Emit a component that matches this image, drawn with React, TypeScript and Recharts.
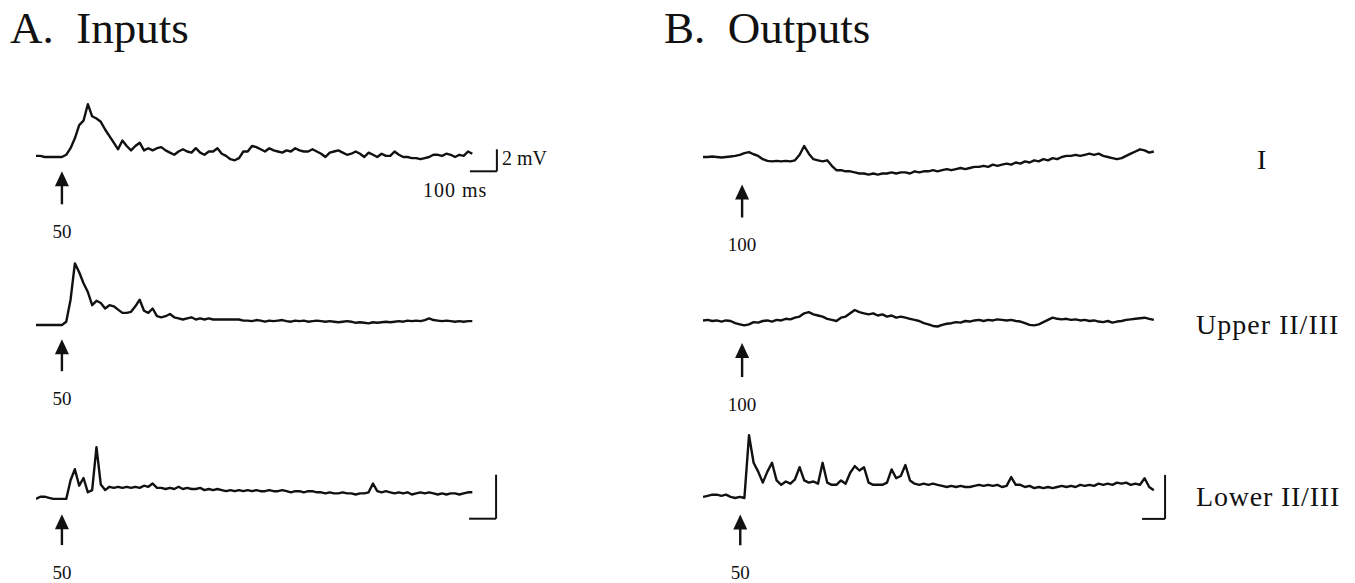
import React from 'react';
import { LineChart, Line, XAxis, YAxis, ReferenceLine } from 'recharts';

// sampling step of the traces (ms)
const A_STEP_MS = 16;
const B_STEP_MS = 20;

// A. Inputs, membrane potential relative to rest (mV)
const inputTrace1Mv = [
    0.1, 0.1, 0, 0, 0, 0, 0, 0.2, 0.8, 1.7,
    2.9, 3.3, 4.8, 3.7, 3.5, 3.2, 2.5, 1.9, 1.3, 0.7,
    1.5, 1.0, 0.6, 1.0, 1.3, 0.6, 0.8, 0.6, 0.8, 0.9,
    0.6, 0.4, 0.2, 0.5, 0.7, 0.5, 0.4, 0.8, 0.4, 0.2,
    0.5, 0.5, 0.8, 0.3, 0.1, -0.2, -0.3, -0.1, 0.5, 0.5,
    1.0, 0.9, 0.7, 0.5, 0.8, 0.6, 0.5, 0.4, 0.6, 0.5,
    0.8, 0.6, 0.5, 0.5, 0.7, 0.5, 0.3, 0, 0.4, 0.5,
    0.6, 0.4, 0.2, 0.3, 0.5, 0.3, 0, 0.4, 0.2, 0,
    0.3, 0.1, 0.1, 0.5, 0.2, 0, 0, -0.1, -0.1, -0.2,
    -0.1, 0, 0.2, 0.2, 0.1, 0.3, 0.2, 0, 0.2, 0.1, 0.5, 0.3,
];
const inputTrace2Mv = [
    0, 0, 0, 0, 0, 0, 0, 0.3, 2.3, 5.6,
    4.8, 3.8, 3.0, 1.8, 2.2, 2.0, 1.5, 1.8, 1.7, 1.4,
    1.1, 1.1, 1.2, 1.7, 2.3, 1.3, 1.1, 1.5, 0.8, 0.7,
    0.8, 1.0, 0.7, 0.6, 0.5, 0.6, 0.7, 0.5, 0.6, 0.5,
    0.6, 0.5, 0.5, 0.5, 0.5, 0.5, 0.5, 0.5, 0.4,
    0.4, 0.35, 0.45, 0.4, 0.3, 0.4, 0.35, 0.4, 0.45, 0.35,
    0.3, 0.4, 0.35, 0.4, 0.3, 0.35, 0.4, 0.35, 0.3, 0.35,
    0.3, 0.25, 0.3, 0.35, 0.3, 0.2, 0.25, 0.2, 0.15, 0.25,
    0.2, 0.25, 0.3, 0.25, 0.3, 0.35, 0.3, 0.4, 0.35, 0.4,
    0.35, 0.45, 0.6, 0.45, 0.4, 0.35, 0.4, 0.35, 0.3, 0.35, 0.3, 0.35, 0.35,
];
const inputTrace3Mv = [
    0.1, 0.3, 0.3, 0.2, 0.1, 0.1, 0.1, 0.1, 1.8, 2.8,
    1.3, 2.0, 0.7, 0.9, 4.8, 1.4, 0.9, 1.2, 1.1, 1.2,
    1.1, 1.2, 1.1, 1.2, 1.1, 1.3, 1.2, 1.5, 1.1,
    1.1, 1.0, 1.1, 1.0, 1.2, 1.0, 1.1, 1.0, 1.0, 1.1,
    0.9, 1.0, 0.9, 1.0, 0.9, 0.8, 0.9, 0.8, 0.9, 0.8,
    0.9, 0.8, 0.9, 0.8, 0.8, 0.9, 0.8, 0.8, 0.9, 0.8,
    0.7, 0.8, 0.8, 0.7, 0.8, 0.8, 0.7, 0.7, 0.6, 0.7,
    0.6, 0.6, 0.7, 0.6, 0.6, 0.5, 0.6, 0.6, 0.7, 1.5,
    0.8, 0.7, 0.8, 0.7, 0.6, 0.7, 0.6, 0.7, 0.5, 0.6,
    0.7, 0.6, 0.7, 0.6, 0.5, 0.6, 0.5, 0.6, 0.6, 0.5, 0.6, 0.7, 0.7,
];

// B. Outputs
const outputLayerIMv = [
    0.0, 0.0, 0.05, 0.0, -0.05, 0.0, 0.05, 0.1, 0.2, 0.35,
    0.45, 0.25, 0.1, -0.2, -0.35, -0.4, -0.35, -0.4, -0.35, -0.4,
    -0.3, 0.2, 1.0, 0.3, -0.2, -0.3, -0.4, -0.3, -0.8, -1.2,
    -1.2, -1.3, -1.3, -1.4, -1.5, -1.5, -1.6, -1.5, -1.6, -1.5,
    -1.5, -1.4, -1.5, -1.4, -1.4, -1.5, -1.3, -1.4, -1.3, -1.3,
    -1.2, -1.3, -1.2, -1.1, -1.2, -1.1, -1.0, -1.1, -1.0, -0.9,
    -0.9, -0.8, -0.9, -0.7, -0.8, -0.7, -0.6, -0.7, -0.5, -0.6,
    -0.4, -0.5, -0.3, -0.4, -0.2, -0.3, -0.1, -0.2, 0.0, 0.1,
    0.1, 0.2, 0.1, 0.2, 0.3, 0.2, 0.3, 0.1, 0.0, -0.1,
    -0.2, -0.1, 0.1, 0.3, 0.5, 0.7, 0.6, 0.4, 0.5,
];
const outputUpperMv = [
    0.05, 0.1, 0.0, 0.05, -0.05, 0.05, 0.0, -0.2, -0.3, -0.4,
    -0.3, -0.1, -0.15, 0.0, 0.05, -0.05, 0.1, 0.05, 0.2, 0.15,
    0.3, 0.4, 0.7, 0.8, 0.6, 0.5, 0.4, 0.2, 0.1, 0.0,
    0.3, 0.4, 0.7, 1.0, 0.8, 0.7, 0.6, 0.7, 0.5, 0.6,
    0.4, 0.5, 0.3, 0.4, 0.3, 0.2, 0.1, 0.0, -0.2, -0.3,
    -0.45, -0.5, -0.35, -0.25, -0.2, -0.1, -0.15, 0.0, -0.05, 0.05,
    0.1, 0.0, 0.1, 0.05, 0.15, 0.1, 0.05, 0.1, 0.0, -0.05,
    -0.2, -0.35, -0.4, -0.3, -0.1, 0.1, 0.3, 0.2, 0.15, 0.2,
    0.1, 0.15, 0.05, 0.1, 0.0, 0.05, -0.05, -0.1, 0.0, -0.15,
    -0.05, 0.0, 0.1, 0.15, 0.2, 0.25, 0.3, 0.2, 0.1,
];
const outputLowerMv = [
    0.1, 0.2, 0.3, 0.3, 0.2, 0.3, 0.1, 0.0, 0.1, 0.0,
    5.7, 3.2, 2.4, 1.4, 2.4, 3.2, 1.6, 1.2, 1.5, 1.3,
    1.7, 2.8, 1.6, 1.4, 1.5, 1.3, 3.2, 1.4, 1.2, 1.2,
    1.6, 1.3, 2.3, 2.9, 2.5, 2.8, 1.4, 1.2, 1.2, 1.2,
    1.4, 2.6, 1.8, 2.0, 3.0, 1.6, 1.3, 1.2, 1.3, 1.2,
    1.3, 1.2, 1.1, 1.0, 1.1, 1.0, 1.1, 1.0, 1.0, 1.1,
    1.2, 1.1, 1.2, 1.1, 1.2, 1.0, 1.1, 1.9, 1.2, 1.2,
    1.0, 1.1, 0.9, 1.0, 0.9, 1.0, 0.9, 1.0, 1.1, 1.0,
    1.1, 1.0, 1.2, 1.1, 1.2, 1.1, 1.3, 1.2, 1.3, 1.2,
    1.4, 1.3, 1.4, 1.2, 1.3, 1.2, 1.8, 1.0, 0.7,
];

// stimulus time (ms) and intensity label, one per trace
const stimTimesMs = [96, 96, 96, 170, 170, 162];
const stimLabels = ['50', '50', '50', '100', '100', '50'];

const panelTitles = ['A.  Inputs', 'B.  Outputs'];
const layerLabels = ['I', 'Upper II/III', 'Lower II/III'];

// scale bars: 100 ms x (2 mV top-left, 4 mV on the bottom rows)
const scaleBarMs = 100;
const scaleBarMv = [2, 4, 4];
const scaleBarTexts = ['2 mV', '100 ms'];

const INK = '#111';
const SERIF = '"Liberation Serif", "Times New Roman", serif';

const CHART_W = 470;
const Y_MIN = -9;
const Y_MAX = 6;
const PX_PER_MV = 11;
const CHART_H = (Y_MAX - Y_MIN) * PX_PER_MV;
const A_TMAX = CHART_W * (100 / 27);
const B_TMAX = CHART_W * (100 / 23);

const Arrow = (props: any) => {
    const { x1, y1, y2, label } = props;
    return (
        <g>
            <line x1={x1} y1={y1 + 12} x2={x1} y2={y2} stroke={INK} strokeWidth={2.4} />
            <polygon points={`${x1},${y1} ${x1 - 7},${y1 + 15} ${x1 + 7},${y1 + 15}`} fill={INK} />
            <text
                x={x1}
                y={y2 + 27}
                textAnchor="middle"
                dominantBaseline="central"
                fontFamily={SERIF}
                fontSize={19}
                fill={INK}
            >
                {label}
            </text>
        </g>
    );
};

interface TraceProps {
    values: number[];
    step: number;
    tMax: number;
    left: number;
    baseline: number;
    stim: number;
    stimLabel: string;
    arrowTip: number;
    arrowTail: number;
    bar?: { t: number; y: number; mv: number };
}

const Trace: React.FC<TraceProps> = ({ values, step, tMax, left, baseline, stim, stimLabel, arrowTip, arrowTail, bar }) => {
    const data = values.map((v, i) => ({ t: i * step, v }));
    return (
        <div style={{ position: 'absolute', left, top: baseline - Y_MAX * PX_PER_MV }}>
            <LineChart width={CHART_W} height={CHART_H} data={data} margin={{ top: 0, right: 0, bottom: 0, left: 0 }}>
                <XAxis type="number" dataKey="t" domain={[0, tMax]} hide allowDataOverflow />
                <YAxis type="number" domain={[Y_MIN, Y_MAX]} hide allowDataOverflow />
                <Line
                    type="linear"
                    dataKey="v"
                    stroke={INK}
                    strokeWidth={2.4}
                    strokeLinejoin="round"
                    dot={false}
                    isAnimationActive={false}
                />
                <ReferenceLine
                    segment={[{ x: stim, y: arrowTip }, { x: stim, y: arrowTail }]}
                    shape={(p: any) => <Arrow {...p} label={stimLabel} />}
                />
                {bar ? (
                    <ReferenceLine
                        segment={[{ x: bar.t - scaleBarMs, y: bar.y }, { x: bar.t, y: bar.y }]}
                        stroke={INK}
                        strokeWidth={2}
                    />
                ) : null}
                {bar ? (
                    <ReferenceLine
                        segment={[{ x: bar.t, y: bar.y }, { x: bar.t, y: bar.y + bar.mv }]}
                        stroke={INK}
                        strokeWidth={2}
                    />
                ) : null}
            </LineChart>
        </div>
    );
};

const label = (text: string, left: number, centerY: number, size: number, spacing = 0) => (
    <div
        key={text + left}
        style={{
            position: 'absolute',
            left,
            top: centerY - size / 2,
            fontSize: size,
            lineHeight: 1,
            fontFamily: SERIF,
            color: INK,
            whiteSpace: 'pre',
            letterSpacing: spacing,
        }}
    >
        {text}
    </div>
);

export default function App() {
    return (
        <div
            style={{
                position: 'absolute',
                left: 0,
                top: 0,
                width: 1355,
                height: 583,
                background: '#fff',
                overflow: 'hidden',
            }}
        >
            {label(panelTitles[0], 10, 28, 45)}
            {label(panelTitles[1], 664, 28, 45)}

            <Trace values={inputTrace1Mv} step={A_STEP_MS} tMax={A_TMAX} left={36} baseline={157}
                stim={stimTimesMs[0]} stimLabel={stimLabels[0]} arrowTip={-1.3} arrowTail={-4.3}
                bar={{ t: 1707, y: -1.3, mv: scaleBarMv[0] }} />
            <Trace values={inputTrace2Mv} step={A_STEP_MS} tMax={A_TMAX} left={36} baseline={325}
                stim={stimTimesMs[1]} stimLabel={stimLabels[1]} arrowTip={-1.3} arrowTail={-4.2} />
            <Trace values={inputTrace3Mv} step={A_STEP_MS} tMax={A_TMAX} left={36} baseline={500}
                stim={stimTimesMs[2]} stimLabel={stimLabels[2]} arrowTip={-1.3} arrowTail={-4.1}
                bar={{ t: 1704, y: -1.7, mv: scaleBarMv[1] }} />

            <Trace values={outputLayerIMv} step={B_STEP_MS} tMax={B_TMAX} left={703} baseline={157}
                stim={stimTimesMs[3]} stimLabel={stimLabels[3]} arrowTip={-2.5} arrowTail={-5.5} />
            <Trace values={outputUpperMv} step={B_STEP_MS} tMax={B_TMAX} left={703} baseline={321}
                stim={stimTimesMs[4]} stimLabel={stimLabels[4]} arrowTip={-2.0} arrowTail={-5.1} />
            <Trace values={outputLowerMv} step={B_STEP_MS} tMax={B_TMAX} left={703} baseline={498}
                stim={stimTimesMs[5]} stimLabel={stimLabels[5]} arrowTip={-1.5} arrowTail={-4.3}
                bar={{ t: 2009, y: -1.9, mv: scaleBarMv[2] }} />

            {label(scaleBarTexts[0], 502, 158, 20)}
            {label(scaleBarTexts[1], 423, 190, 20, 1)}
            {label(layerLabels[0], 1257, 160, 28)}
            {label(layerLabels[1], 1196, 325, 28, 1)}
            {label(layerLabels[2], 1196, 497, 28, 0.8)}
        </div>
    );
}
